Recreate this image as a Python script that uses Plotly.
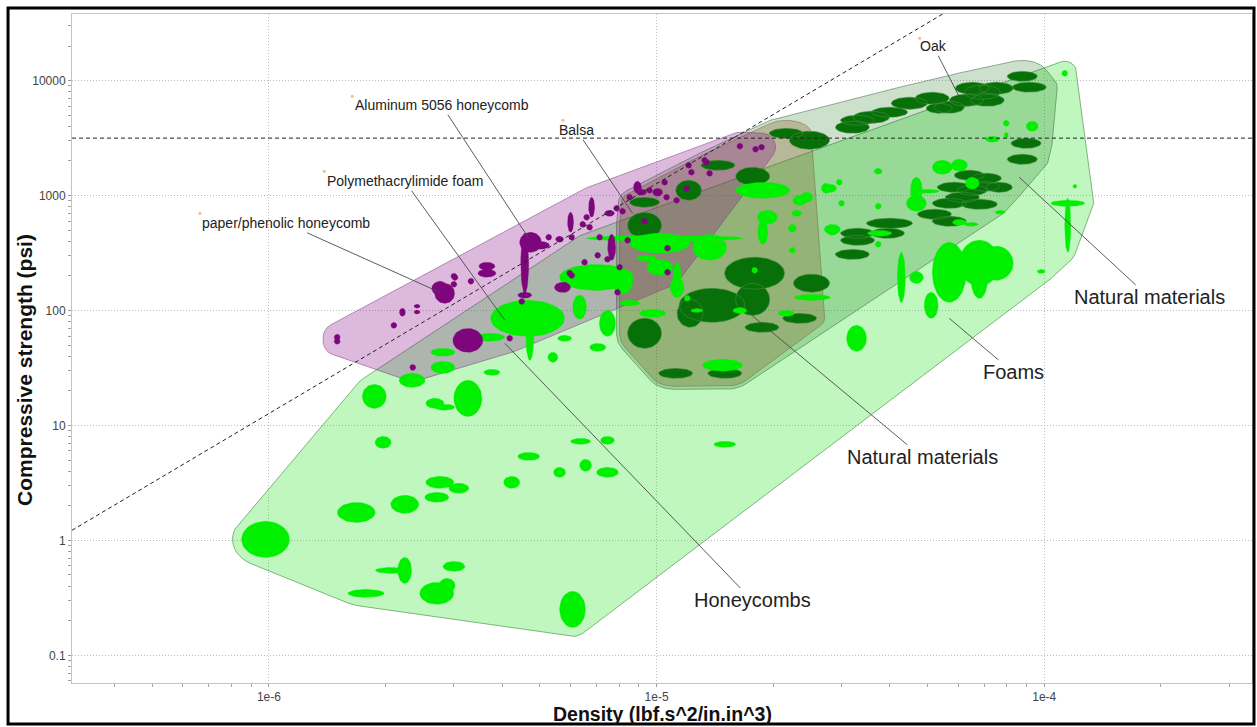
import math
import numpy as np
import plotly.graph_objects as go

# ---------------------------------------------------------------------------
# Material data: density (lbf.s^2/in^4), compressive strength (psi) and the
# half-range factor of each property (upper bound = value * factor,
# lower bound = value / factor).
# ---------------------------------------------------------------------------
foam_density = [9.8e-7, 1.68e-6, 2.24e-6, 2.76e-6, 3.09e-6, 2.71e-6, 4.23e-6, 4.68e-6, 1.97e-6, 1.87e-6,
                2.34e-6, 3.26e-6, 2.68e-6, 2.84e-6, 2.81e-6, 2.81e-6, 3.76e-6, 1.78e-6, 2.24e-6, 2.08e-6,
                2.71e-6, 2.88e-6, 3.0e-6, 3.71e-6, 4.65e-6, 4.71e-6, 5.79e-6, 5.40e-6, 7.0e-6, 6.33e-6,
                7.47e-6, 7.05e-6, 9.77e-6, 1.05e-5, 1.02e-5, 1.02e-5, 1.13e-5, 9.42e-6, 1.37e-5, 1.13e-5,
                1.88e-5, 2.34e-5, 2.74e-5, 2.30e-5, 1.93e-5, 1.88e-5, 2.24e-5, 2.24e-5, 2.84e-5, 2.52e-5,
                2.16e-5, 1.64e-5, 8.17e-6, 8.52e-6, 1.48e-5, 1.79e-5, 1.27e-5, 1.20e-5, 1.13e-4, 9.31e-5,
                7.98e-5, 7.98e-5, 7.35e-5, 5.46e-5, 6.04e-5, 6.52e-5, 4.68e-5, 4.68e-5, 4.97e-5, 3.73e-5,
                2.81e-5, 2.96e-5, 3.0e-5, 3.73e-5, 2.44e-5, 2.84e-5, 3.76e-5, 3.73e-5, 6.04e-5, 7.7e-5,
                6.48e-5, 1.2e-4, 1.15e-4, 1.15e-4, 9.82e-5, 5.69e-5, 6.8e-5, 7.52e-5, 6.8e-5, 4.28e-5,
                4.68e-5, 5.11e-5, 3.28e-5, 1.5e-5, 6.37e-6, 7.47e-6, 5.62e-6, 6.56e-6, 7.47e-6, 6.07e-6]
foam_strength = [1.02, 1.75, 2.06, 3.2, 2.84, 2.37, 3.2, 5.38, 7.13, 17.9,
                 24.7, 17.2, 15.6, 14.4, 32.0, 43.3, 29.0, 0.346, 0.548, 0.548,
                 0.346, 0.406, 0.594, 58.5, 85.5, 60.8, 57.3, 39.2, 194, 107,
                 77.4, 47.8, 94.5, 425, 385, 238, 194, 285, 355, 159,
                 1112, 910, 1157, 701, 647, 480, 519, 334, 499, 130,
                 94.5, 100, 176, 116, 33.4, 224, 100, 128, 11600, 4010,
                 4260, 3350, 3090, 1763, 1835, 1280, 1112, 857, 1090, 1627,
                 1157, 1306, 857, 807, 967, 509, 470, 377, 586, 716,
                 562, 1205, 857, 551, 219, 215, 258, 258, 183, 194,
                 194, 111, 57.3, 6.85, 7.27, 7.42, 3.91, 4.5, 3.91, 0.251]
foam_density_f = [1.153, 1.119, 1.087, 1.087, 1.061, 1.074, 1.049, 1.067, 1.049, 1.074,
                  1.080, 1.087, 1.055, 1.061, 1.074, 1.074, 1.049, 1.113, 1.042, 1.106,
                  1.106, 1.049, 1.067, 1.093, 1.246, 1.024, 1.042, 1.030, 1.246, 1.042,
                  1.049, 1.049, 1.080, 1.589, 1.195, 1.080, 1.024, 1.061, 1.106, 1.042,
                  1.174, 1.042, 1.030, 1.030, 1.061, 1.030, 1.024, 1.018, 1.036, 1.113,
                  1.049, 1.042, 1.061, 1.061, 1.126, 1.018, 1.036, 1.018, 1.018, 1.036,
                  1.018, 1.012, 1.042, 1.061, 1.049, 1.042, 1.036, 1.061, 1.080, 1.024,
                  1.036, 1.018, 1.018, 1.018, 1.036, 1.049, 1.074, 1.018, 1.042, 1.030,
                  1.042, 1.012, 1.106, 1.018, 1.024, 1.106, 1.126, 1.106, 1.049, 1.024,
                  1.042, 1.042, 1.061, 1.067, 1.061, 1.042, 1.036, 1.036, 1.067, 1.080]
foam_strength_f = [1.435, 1.222, 1.197, 1.128, 1.105, 1.105, 1.128, 1.083, 1.128, 1.272,
                   1.151, 1.435, 1.105, 1.062, 1.128, 1.083, 1.062, 1.083, 1.298, 1.062,
                   1.247, 1.151, 1.105, 1.083, 1.435, 1.651, 1.062, 1.105, 1.298, 1.272,
                   1.298, 1.083, 1.083, 1.062, 1.222, 1.174, 1.351, 1.062, 1.298, 1.222,
                   1.174, 1.105, 1.105, 1.062, 1.151, 1.272, 1.083, 1.062, 1.105, 1.062,
                   1.062, 1.062, 1.272, 1.062, 1.128, 1.062, 1.040, 1.062, 1.062, 1.105,
                   1.062, 1.062, 1.062, 1.151, 1.128, 1.128, 1.298, 1.174, 1.040, 1.062,
                   1.083, 1.062, 1.062, 1.062, 1.105, 1.105, 1.062, 1.062, 1.062, 1.040,
                   1.040, 1.040, 1.062, 1.718, 1.040, 1.825, 1.585, 1.406, 1.435, 1.651,
                   1.128, 1.298, 1.298, 1.062, 1.062, 1.083, 1.105, 1.128, 1.105, 1.435]

natural_density = [8.78e-5, 9.15e-5, 7.52e-5, 6.92e-5, 6.52e-5, 7.13e-5, 6.3e-5, 5.69e-5, 5.14e-5, 4.49e-5,
                   5.36e-5, 3.99e-5, 3.58e-5, 3.3e-5, 3.2e-5, 2.48e-5, 2.16e-5, 8.98e-5, 8.78e-5, 6.41e-5,
                   7.09e-5, 7.66e-5, 7.0e-5, 6.52e-5, 6.15e-5, 5.69e-5, 6.8e-5, 5.21e-5, 5.69e-5, 3.99e-5,
                   3.3e-5, 3.94e-5, 3.3e-5, 3.2e-5, 5.86e-5, 1.44e-5, 1.77e-5, 1.21e-5, 9.31e-6, 9.31e-6,
                   1.79e-5, 2.51e-5, 1.77e-5, 1.39e-5, 1.22e-5, 2.34e-5, 1.87e-5, 9.31e-6, 1.12e-5, 1.5e-5]
natural_strength = [10900, 8770, 8590, 7920, 8590, 6750, 6750, 5870, 7030, 6360,
                    5750, 5310, 4800, 4520, 3930, 3030, 3480, 2850, 2070, 1503,
                    1415, 1181, 1205, 1112, 967, 857, 840, 688, 598, 574,
                    470, 470, 408, 308, 1181, 1835, 1472, 1112, 875, 551,
                    211, 173, 125, 111, 94.5, 85.5, 71.4, 63.4, 28.4, 28.4]
natural_density_f = [1.093, 1.106, 1.106, 1.113, 1.106, 1.106, 1.106, 1.093, 1.106, 1.113,
                     1.080, 1.113, 1.113, 1.106, 1.106, 1.126, 1.106, 1.093, 1.093, 1.093,
                     1.093, 1.080, 1.093, 1.093, 1.106, 1.106, 1.113, 1.106, 1.106, 1.146,
                     1.106, 1.106, 1.106, 1.106, 1.106, 1.106, 1.106, 1.080, 1.093, 1.106,
                     1.195, 1.113, 1.106, 1.216, 1.080, 1.106, 1.106, 1.106, 1.106, 1.106]
natural_strength_f = [1.105, 1.105, 1.128, 1.151, 1.128, 1.128, 1.128, 1.128, 1.128, 1.128,
                      1.105, 1.105, 1.128, 1.105, 1.128, 1.198, 1.105, 1.105, 1.105, 1.105,
                      1.105, 1.105, 1.105, 1.105, 1.105, 1.105, 1.105, 1.105, 1.105, 1.105,
                      1.105, 1.105, 1.105, 1.105, 1.105, 1.105, 1.198, 1.222, 1.105, 1.298,
                      1.378, 1.198, 1.378, 1.406, 1.323, 1.105, 1.105, 1.351, 1.105, 1.105]
# natural-materials sub-groups: "A" dense woods, "B" light woods (balsa, cork ...)
natural_group = ["A", "A", "A", "A", "A", "A", "A", "A", "A", "A",
                 "A", "A", "A", "A", "A", "A", "B", "A", "A", "A",
                 "A", "A", "A", "A", "A", "A", "A", "A", "A", "A",
                 "A", "A", "A", "A", "A", "B", "B", "B", "B", "B",
                 "B", "A", "B", "B", "B", "B", "B", "B", "B", "B"]

honeycomb_density = [1.5e-6, 1.5e-6, 2.1e-6, 2.21e-6, 2.41e-6, 2.41e-6, 2.84e-6, 2.76e-6, 3.0e-6, 3.0e-6,
                     3.32e-6, 3.65e-6, 3.65e-6, 4.73e-6, 4.57e-6, 4.57e-6, 4.99e-6, 5.27e-6, 5.62e-6, 6.04e-6,
                     6.0e-6, 5.79e-6, 5.97e-6, 4.49e-6, 4.18e-6, 3.26e-6, 3.02e-6, 6.45e-6, 6.72e-6, 6.8e-6,
                     7.56e-6, 7.89e-6, 8.17e-6, 8.52e-6, 8.93e-6, 9.15e-6, 9.59e-6, 1.006e-5, 1.061e-5, 1.126e-5,
                     9.31e-6, 8.42e-6, 7.66e-6, 7.13e-6, 7.05e-6, 6.04e-6, 5.72e-6, 8.03e-6, 7.93e-6, 1.067e-5,
                     1.067e-5, 1.195e-5, 1.21e-5, 1.345e-5, 1.37e-5, 1.64e-5, 1.8e-5, 1.865e-5, 1.33e-5, 1.23e-5,
                     1.049e-5, 7.47e-6, 6.52e-6, 2.35e-6, 6.6e-6]
honeycomb_strength = [58.5, 54.0, 74.3, 96.5, 109, 97, 141, 156, 199, 169,
                      180, 243, 211, 392, 258, 136, 369, 434, 417, 434,
                      586, 159, 211, 120, 57.3, 55.0, 194, 562, 530, 791,
                      701, 775, 730, 967, 1181, 1069, 1112, 1069, 967, 910,
                      598, 408, 355, 434, 302, 202, 159, 238, 144, 215,
                      348, 1157, 1835, 1950, 1563, 2690, 2530, 2640, 2030, 1596,
                      1306, 279, 263, 32.0, 647]
honeycomb_density_f = [1.018, 1.018, 1.018, 1.018, 1.018, 1.018, 1.061, 1.049, 1.018, 1.018,
                       1.018, 1.049, 1.055, 1.067, 1.024, 1.042, 1.061, 1.018, 1.024, 1.018,
                       1.018, 1.030, 1.018, 1.018, 1.018, 1.093, 1.018, 1.018, 1.018, 1.018,
                       1.030, 1.018, 1.018, 1.018, 1.024, 1.030, 1.018, 1.030, 1.018, 1.018,
                       1.018, 1.018, 1.024, 1.018, 1.018, 1.018, 1.049, 1.018, 1.018, 1.018,
                       1.018, 1.018, 1.018, 1.018, 1.018, 1.018, 1.018, 1.018, 1.018, 1.018,
                       1.018, 1.018, 1.018, 1.018, 1.018]
honeycomb_strength_f = [1.062, 1.062, 1.062, 1.083, 1.040, 1.040, 1.222, 1.151, 1.062, 1.062,
                        1.062, 1.083, 1.083, 1.222, 1.825, 1.062, 1.083, 1.062, 1.062, 1.062,
                        1.222, 1.105, 1.062, 1.062, 1.062, 1.272, 1.062, 1.062, 1.062, 1.222,
                        1.062, 1.062, 1.062, 1.062, 1.128, 1.062, 1.062, 1.083, 1.062, 1.062,
                        1.062, 1.062, 1.298, 1.062, 1.062, 1.062, 1.105, 1.062, 1.062, 1.062,
                        1.062, 1.062, 1.062, 1.062, 1.062, 1.062, 1.062, 1.062, 1.062, 1.062,
                        1.062, 1.062, 1.062, 1.062, 1.062]

# guide lines: strength limit and sigma / rho^2 = constant
strength_limit = 3162.0
guide_constant = 1.27e13

# axis ticks
x_tickvals = [1e-6, 1e-5, 1e-4]
x_ticktext = ["1e-6", "1e-5", "1e-4"]
y_tickvals = [0.1, 1, 10, 100, 1000, 10000]
y_ticktext = ["0.1", "1", "10", "100", "1000", "10000"]

# ---------------------------------------------------------------------------
# geometry helpers (log space, scaled to screen pixels for isotropic padding)
# ---------------------------------------------------------------------------
X_RANGE = [-6.508, -3.464]
Y_RANGE = [-1.241, 4.58]
M_L, M_R, M_T, M_B = 72, 5, 14, 44
W, H = 1257, 727
PX_X = (W - M_L - M_R) / (X_RANGE[1] - X_RANGE[0])
PX_Y = (H - M_T - M_B) / (Y_RANGE[1] - Y_RANGE[0])


def ellipse(rho, sig, fr, fs, pad=0.0, n=48):
    t = np.linspace(0, 2 * np.pi, n)
    ax = math.log10(fr) + pad / PX_X
    ay = math.log10(fs) + pad / PX_Y
    return math.log10(rho) + ax * np.cos(t), math.log10(sig) + ay * np.sin(t)


def bubble_path(dens, stren, fd, fs, idx=None):
    xs, ys = [], []
    idx = range(len(dens)) if idx is None else idx
    for i in idx:
        lx, ly = ellipse(dens[i], stren[i], fd[i], fs[i])
        xs += list(10 ** lx) + [None]
        ys += list(10 ** ly) + [None]
    return xs, ys


def convex_hull(pts):
    pts = sorted(set(pts))
    if len(pts) < 3:
        return pts

    def cross(o, a, b):
        return (a[0] - o[0]) * (b[1] - o[1]) - (a[1] - o[1]) * (b[0] - o[0])

    lower, upper = [], []
    for p in pts:
        while len(lower) >= 2 and cross(lower[-2], lower[-1], p) <= 0:
            lower.pop()
        lower.append(p)
    for p in reversed(pts):
        while len(upper) >= 2 and cross(upper[-2], upper[-1], p) <= 0:
            upper.pop()
        upper.append(p)
    return lower[:-1] + upper[:-1]


def envelope(dens, stren, fd, fs, pad, idx=None):
    idx = range(len(dens)) if idx is None else idx
    pts = []
    for i in idx:
        lx, ly = ellipse(dens[i], stren[i], fd[i], fs[i], pad=pad, n=72)
        pts += [(round(a * PX_X, 3), round(b * PX_Y, 3)) for a, b in zip(lx, ly)]
    hull = convex_hull(pts)
    hull.append(hull[0])
    return [10 ** (p[0] / PX_X) for p in hull], [10 ** (p[1] / PX_Y) for p in hull]


fig = go.Figure()

# ---- family envelopes ----
nat_b = [i for i, g in enumerate(natural_group) if g == "B"]
env_specs = [
    (envelope(foam_density, foam_strength, foam_density_f, foam_strength_f, 9),
     "rgba(0,224,0,0.25)", "rgba(70,140,70,0.8)"),
    (envelope(natural_density, natural_strength, natural_density_f, natural_strength_f, 11),
     "rgba(0,100,0,0.2)", "rgba(70,110,70,0.7)"),
    (envelope(natural_density, natural_strength, natural_density_f, natural_strength_f, 8, nat_b),
     "rgba(140,100,50,0.32)", "rgba(115,95,70,0.6)"),
    (envelope(honeycomb_density, honeycomb_strength, honeycomb_density_f, honeycomb_strength_f, 11),
     "rgba(128,0,128,0.27)", "rgba(130,70,130,0.7)"),
]
for (ex, ey), fillc, linec in env_specs:
    fig.add_trace(go.Scatter(x=ex, y=ey, mode="lines", fill="toself", fillcolor=fillc,
                             line=dict(color=linec, width=0.8), hoverinfo="skip"))

# ---- material bubbles ----
bx, by = bubble_path(natural_density, natural_strength, natural_density_f, natural_strength_f)
fig.add_trace(go.Scatter(x=bx, y=by, mode="lines", fill="toself", fillcolor="#087008",
                         line=dict(color="#3f8f3f", width=0.6), name="Natural materials"))
bx, by = bubble_path(foam_density, foam_strength, foam_density_f, foam_strength_f)
fig.add_trace(go.Scatter(x=bx, y=by, mode="lines", fill="toself", fillcolor="#00f000",
                         line=dict(color="#00f000", width=0.3), name="Foams"))
bx, by = bubble_path(honeycomb_density, honeycomb_strength, honeycomb_density_f, honeycomb_strength_f)
fig.add_trace(go.Scatter(x=bx, y=by, mode="lines", fill="toself", fillcolor="#7d067d",
                         line=dict(color="#7d067d", width=0.3), name="Honeycombs"))

# ---- guide lines ----
x_ends = [10 ** X_RANGE[0], 10 ** X_RANGE[1]]
fig.add_trace(go.Scatter(x=x_ends, y=[strength_limit, strength_limit], mode="lines",
                         line=dict(color="#222222", width=1, dash="4px,3px"), hoverinfo="skip"))
fig.add_trace(go.Scatter(x=x_ends, y=[guide_constant * v ** 2 for v in x_ends], mode="lines",
                         line=dict(color="#222222", width=1, dash="4px,3px"), hoverinfo="skip"))

# ---- labels ----
FONT = "Liberation Sans, Arial, sans-serif"
# (text, label density, label strength, target density, target strength, size)
labels = [
    ("Oak", 5.18e-5, 19900, 6.1e-5, 6750, 14),
    ("Aluminum 5056 honeycomb", 2.79e-6, 6110, 4.68e-6, 425, 14),
    ("Balsa", 6.22e-6, 3700, 8.67e-6, 701, 14),
    ("Polymethacrylimide foam", 2.24e-6, 1332, 4.06e-6, 82.2, 14),
    ("paper/phenolic honeycomb", 1.106e-6, 574, 2.76e-6, 144, 14),
    ("Natural materials", 1.866e-4, 130, 8.62e-5, 1443, 20),
    ("Foams", 8.31e-5, 29.0, 5.69e-5, 85.5, 20),
    ("Natural materials", 4.85e-5, 5.28, 1.76e-5, 90.8, 20),
    ("Honeycombs", 1.766e-5, 0.30, 4.06e-6, 51.8, 20),
]
for text, lxv, lyv, tx, ty, size in labels:
    fig.add_annotation(x=math.log10(tx), y=math.log10(ty), ax=math.log10(lxv), ay=math.log10(lyv),
                       xref="x", yref="y", axref="x", ayref="y", text=text, showarrow=True,
                       arrowhead=0, arrowwidth=0.9, arrowcolor="#4a4a4a", standoff=0,
                       font=dict(family=FONT, size=size, color="#222222"))

# small label anchor markers
anchor_d = [4.77e-5, 1.64e-6, 5.73e-6, 1.39e-6, 6.64e-7]
anchor_s = [23400, 7310, 4520, 1627, 701]
fig.add_trace(go.Scatter(x=anchor_d, y=anchor_s, mode="markers",
                         marker=dict(size=3, color="#f0c080"), hoverinfo="skip"))

# ---- axis titles ----
fig.add_annotation(text="Density (lbf.s^2/in.in^3)", xref="paper", yref="paper", x=0.5, y=-0.0468,
                   showarrow=False, xanchor="center", yanchor="middle",
                   font=dict(family=FONT, size=19.5, color="#111111", weight="bold"))
fig.add_annotation(text="Compressive strength (psi)", xref="paper", yref="paper", x=-0.0398, y=0.468,
                   showarrow=False, textangle=-90, xanchor="center", yanchor="middle",
                   font=dict(family=FONT, size=21, color="#111111", weight="bold"))

# ---- outer frame ----
fig.add_shape(type="rect", xref="paper", yref="paper", x0=-0.0542, x1=1.0017, y0=-0.0613, y1=1.009,
              line=dict(color="#000000", width=3), fillcolor="rgba(0,0,0,0)")


def minor_vals(lo, hi):
    return [k * 10.0 ** d for d in range(math.floor(lo), math.ceil(hi) + 1) for k in range(2, 10)
            if lo <= math.log10(k * 10.0 ** d) <= hi]


axis_common = dict(type="log", showline=True, linecolor="#c4c4c4", linewidth=1, mirror=True,
                   showgrid=True, gridcolor="#bdbdbd", griddash="1px,2px", gridwidth=1,
                   ticks="outside", ticklen=3, tickcolor="#9a9a9a", zeroline=False,
                   tickfont=dict(family=FONT, size=12, color="#444444"))
fig.update_xaxes(range=X_RANGE, tickmode="array", tickvals=x_tickvals, ticktext=x_ticktext,
                 minor=dict(tickvals=minor_vals(*X_RANGE), ticks="outside", ticklen=3,
                            tickcolor="#a0a0a0", showgrid=False), **axis_common)
fig.update_yaxes(range=Y_RANGE, tickmode="array", tickvals=y_tickvals, ticktext=y_ticktext,
                 minor=dict(tickvals=minor_vals(*Y_RANGE), ticks="outside", ticklen=3,
                            tickcolor="#a0a0a0", showgrid=False), **axis_common)

fig.update_layout(width=W, height=H, margin=dict(l=M_L, r=M_R, t=M_T, b=M_B),
                  paper_bgcolor="white", plot_bgcolor="white", showlegend=False,
                  font=dict(family=FONT))

fig.write_html("out.html")
